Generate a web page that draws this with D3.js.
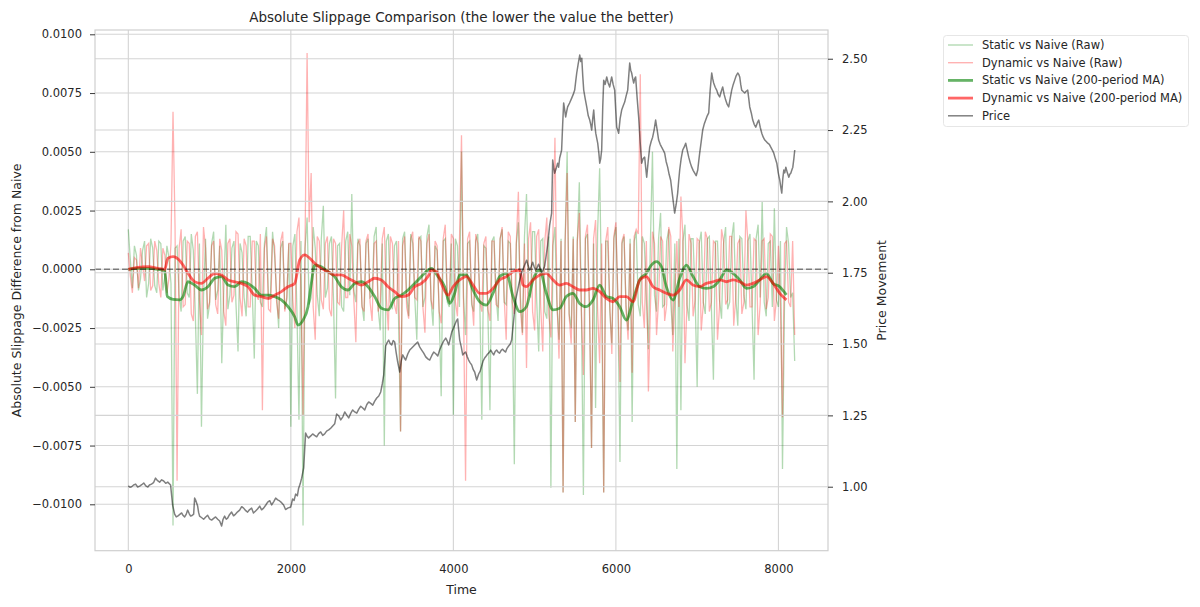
<!DOCTYPE html>
<html>
<head>
<meta charset="utf-8">
<script src="https://cdn.jsdelivr.net/npm/d3@7"></script>
<style>
  html, body { margin: 0; padding: 0; background: #ffffff; }
  svg { display: block; font-family: "DejaVu Sans", sans-serif; }
</style>
</head>
<body>
<svg id="chart" width="1200" height="607"></svg>
<script>
// ---------------- DATA ----------------
const chartTitle = "Absolute Slippage Comparison (the lower the value the better)";
const xLabel = "Time";
const yLeftLabel = "Absolute Slippage Difference from Naive";
const yRightLabel = "Price Movement";
const seriesNames = ["Static vs Naive (Raw)", "Dynamic vs Naive (Raw)", "Static vs Naive (200-period MA)", "Dynamic vs Naive (200-period MA)", "Price"];

const xTicks = [0, 2000, 4000, 6000, 8000];
const leftTicks = [-0.0100, -0.0075, -0.0050, -0.0025, 0.0000, 0.0025, 0.0050, 0.0075, 0.0100];
const rightTicks = [1.00, 1.25, 1.50, 1.75, 2.00, 2.25, 2.50];

// raw series read at every 50 time steps (0 .. 8200) ...
const rawTimes = d3.range(0, 8201, 50);
// ... and at the in-between steps (25 .. 8175)
const rawMidTimes = d3.range(25, 8200, 50);

const staticRaw = [
  0.0017, -0.0008, 0.0006, -0.0004, 0.0012, -0.0006, 0.0009, -0.0010, 0.0011, -0.0003,
  0.0005, -0.0109, 0.0010, -0.0018, 0.0014, -0.0012, 0.0008, -0.0053, -0.0067, 0.0013,
  -0.0015, 0.0016, -0.0009, -0.0040, 0.0019, -0.0011, 0.0012, -0.0035, 0.0007, -0.0020,
  0.0014, -0.0038, 0.0010, -0.0016, 0.0018, -0.0010, 0.0006, -0.0025, 0.0012, -0.0013,
  -0.0067, 0.0015, -0.0064, -0.0109, 0.0022, -0.0012, 0.0009, -0.0020, 0.0027, -0.0008,
  0.0014, -0.0055, 0.0011, -0.0018, 0.0016, 0.0032, -0.0014, 0.0010, -0.0022, 0.0013,
  -0.0011, 0.0018, -0.0026, -0.0075, 0.0015, -0.0017, 0.0012, -0.0069, 0.0016, -0.0020,
  0.0011, -0.0030, 0.0014, -0.0012, 0.0019, -0.0024, 0.0008, -0.0054, 0.0013, -0.0016,
  -0.0062, 0.0010, 0.0050, -0.0028, 0.0012, -0.0018, 0.0015, -0.0064, 0.0009, -0.0060,
  0.0014, -0.0022, 0.0017, -0.0015, 0.0011, -0.0083, 0.0020, -0.0027, 0.0032, -0.0012,
  0.0016, -0.0035, 0.0013, -0.0021, -0.0093, 0.0018, -0.0030, -0.0095, 0.0050, -0.0025,
  -0.0065, 0.0037, -0.0096, 0.0015, -0.0076, -0.0059, 0.0043, -0.0095, 0.0012, -0.0032,
  0.0018, -0.0082, 0.0014, -0.0026, -0.0065, 0.0016, -0.0020, 0.0011, -0.0034, 0.0050,
  -0.0018, 0.0024, -0.0015, 0.0017, -0.0028, -0.0085, -0.0060, 0.0019, -0.0022, 0.0013,
  -0.0050, 0.0016, -0.0019, 0.0014, -0.0047, 0.0012, -0.0021, 0.0018, -0.0014, 0.0020,
  -0.0024, 0.0013, -0.0017, 0.0015, -0.0047, 0.0019, 0.0029, -0.0020, 0.0012, 0.0026,
  -0.0016, -0.0085, 0.0018, -0.0012, -0.0039
];
const staticRawMid = [
  0.0004, 0.0010, -0.0009, 0.0008, -0.0012, 0.0013, -0.0007, 0.0012, -0.0009, 0.0010,
  -0.0006, 0.0009, -0.0011, 0.0012, -0.0010, 0.0015, -0.0020, 0.0011, -0.0012, -0.0021,
  0.0011, -0.0013, 0.0010, -0.0008, -0.0017, 0.0009, -0.0015, 0.0011, -0.0012, 0.0014,
  -0.0009, 0.0012, -0.0014, 0.0011, -0.0013, 0.0016, -0.0011, 0.0009, -0.0017, 0.0011,
  0.0010, -0.0018, 0.0012, 0.0009, -0.0015, 0.0018, -0.0011, 0.0013, -0.0012, 0.0011,
  -0.0013, 0.0010, -0.0016, 0.0012, -0.0011, -0.0009, 0.0013, -0.0015, 0.0011, -0.0012,
  0.0014, -0.0017, 0.0011, 0.0012, -0.0014, 0.0010, -0.0020, 0.0013, -0.0011, 0.0015,
  -0.0012, 0.0013, -0.0016, 0.0014, -0.0013, 0.0010, -0.0018, 0.0012, -0.0014, 0.0011,
  0.0013, -0.0016, -0.0012, 0.0011, -0.0015, 0.0012, -0.0013, 0.0010, -0.0019, 0.0012,
  -0.0011, 0.0013, -0.0014, 0.0012, -0.0017, 0.0011, -0.0012, 0.0014, -0.0010, 0.0016,
  -0.0013, 0.0012, -0.0018, 0.0014, 0.0010, -0.0016, 0.0013, 0.0012, -0.0019, 0.0014,
  0.0012, -0.0015, 0.0013, -0.0017, 0.0011, 0.0016, -0.0014, 0.0012, -0.0018, 0.0013,
  -0.0014, 0.0011, -0.0016, 0.0013, 0.0012, -0.0015, 0.0014, -0.0013, 0.0012, -0.0011,
  0.0013, -0.0016, 0.0012, -0.0014, 0.0011, 0.0013, 0.0012, -0.0015, 0.0013, -0.0012,
  0.0011, -0.0014, 0.0013, -0.0016, 0.0012, -0.0013, 0.0011, -0.0017, 0.0013, -0.0012,
  0.0014, -0.0011, 0.0012, -0.0015, 0.0013, -0.0012, -0.0014, 0.0011, -0.0016, -0.0013,
  0.0012, -0.0014, 0.0011, -0.0010
];
const dynamicRaw = [
  0.0007, -0.0010, 0.0004, 0.0009, -0.0005, 0.0011, -0.0007, 0.0008, -0.0012, 0.0006,
  -0.0004, 0.0067, -0.0090, 0.0017, -0.0015, 0.0011, -0.0022, 0.0016, -0.0028, 0.0009,
  -0.0014, 0.0012, -0.0019, 0.0008, -0.0024, 0.0013, -0.0011, 0.0015, -0.0020, 0.0010,
  -0.0016, 0.0012, -0.0013, -0.0060, 0.0014, -0.0018, 0.0010, -0.0021, 0.0016, -0.0012,
  0.0011, -0.0025, 0.0022, -0.0062, 0.0092, 0.0041, -0.0030, 0.0012, -0.0017, 0.0014,
  -0.0020, 0.0011, -0.0015, 0.0025, -0.0012, 0.0010, -0.0031, 0.0013, -0.0018, 0.0015,
  -0.0022, 0.0012, -0.0014, 0.0018, -0.0026, 0.0011, -0.0019, -0.0069, 0.0014, -0.0021,
  0.0016, -0.0013, 0.0012, -0.0027, 0.0015, -0.0017, 0.0010, -0.0023, 0.0019, -0.0014,
  0.0013, -0.0020, 0.0057, -0.0090, 0.0016, -0.0024, 0.0011, -0.0018, 0.0014, -0.0022,
  0.0012, -0.0016, 0.0018, -0.0030, 0.0014, -0.0019, 0.0033, -0.0028, -0.0042, 0.0020,
  -0.0026, 0.0017, -0.0035, 0.0022, -0.0029, 0.0056, -0.0038, -0.0095, 0.0041, -0.0032,
  -0.0065, 0.0024, -0.0045, 0.0019, -0.0076, 0.0021, -0.0040, -0.0095, 0.0018, -0.0036,
  0.0020, -0.0048, 0.0015, -0.0030, -0.0044, 0.0017, 0.0083, -0.0025, -0.0052, 0.0016,
  -0.0028, 0.0014, -0.0022, 0.0018, -0.0035, 0.0012, 0.0031, -0.0040, 0.0015, -0.0020,
  0.0013, -0.0026, 0.0016, -0.0018, 0.0012, -0.0030, 0.0017, -0.0015, 0.0014, -0.0024,
  0.0011, -0.0019, 0.0025, -0.0016, 0.0013, -0.0028, 0.0012, -0.0017, 0.0015, -0.0022,
  0.0010, -0.0063, 0.0012, -0.0016, -0.0028
];
const dynamicRawMid = [
  -0.0003, 0.0005, -0.0008, 0.0002, 0.0010, -0.0009, 0.0012, -0.0006, 0.0009, -0.0010,
  0.0011, 0.0018, 0.0009, -0.0016, 0.0012, -0.0019, 0.0014, -0.0013, 0.0018, -0.0017,
  0.0010, -0.0015, 0.0013, -0.0018, 0.0011, -0.0014, 0.0016, -0.0012, 0.0013, -0.0016,
  0.0012, -0.0011, 0.0015, 0.0009, -0.0017, 0.0013, -0.0014, 0.0012, -0.0018, 0.0011,
  -0.0013, 0.0016, -0.0010, 0.0012, 0.0020, -0.0016, 0.0014, -0.0013, 0.0011, -0.0017,
  0.0013, -0.0014, 0.0010, -0.0012, 0.0015, -0.0013, 0.0011, -0.0016, 0.0012, -0.0014,
  0.0011, -0.0018, 0.0013, -0.0012, 0.0014, -0.0015, 0.0012, 0.0010, -0.0016, 0.0013,
  -0.0012, 0.0014, -0.0016, 0.0011, -0.0013, 0.0012, -0.0018, 0.0013, -0.0011, 0.0015,
  -0.0014, 0.0012, -0.0016, 0.0013, -0.0012, 0.0015, -0.0013, 0.0011, -0.0017, 0.0012,
  -0.0015, 0.0013, -0.0012, 0.0016, -0.0014, 0.0012, -0.0017, 0.0011, 0.0013, -0.0018,
  0.0014, -0.0016, 0.0012, -0.0019, 0.0015, -0.0013, 0.0012, 0.0011, -0.0020, 0.0013,
  0.0012, -0.0018, 0.0014, -0.0016, 0.0013, -0.0017, 0.0011, 0.0012, -0.0015, 0.0014,
  -0.0013, 0.0012, -0.0017, 0.0011, 0.0014, 0.0015, -0.0014, 0.0012, -0.0016, 0.0011,
  -0.0013, 0.0012, -0.0015, 0.0014, -0.0012, -0.0016, 0.0013, -0.0014, 0.0011, -0.0013,
  0.0012, -0.0015, 0.0013, -0.0014, 0.0011, -0.0016, 0.0012, -0.0013, 0.0014, -0.0012,
  0.0013, -0.0014, 0.0011, -0.0016, 0.0012, -0.0015, 0.0013, -0.0012, 0.0014, -0.0013,
  -0.0015, 0.0011, -0.0014, 0.0012
];

// 200-period moving averages: [time, value]
const staticMA = [
  [0, 0], [119, 0.00004], [242, 0.00004], [365, 0], [447, -0.00006], [480, -0.00116],
  [550, -0.00128], [632, -0.0013], [673, -0.00116], [734, -0.00053], [816, -0.00067],
  [898, -0.00088], [980, -0.00074], [1063, -0.00038], [1145, -0.00031], [1227, -0.00067],
  [1309, -0.00074], [1391, -0.00053], [1473, -0.0006], [1555, -0.00081], [1637, -0.0011],
  [1719, -0.0011], [1801, -0.00116], [1883, -0.0013], [1965, -0.00159], [2047, -0.00202],
  [2088, -0.00237], [2150, -0.00216], [2211, -0.00159], [2252, -0.0006], [2293, 0.00018],
  [2375, 0.00011], [2457, -0.0001], [2539, -0.00031], [2621, -0.00074], [2703, -0.00088],
  [2786, -0.0006], [2868, -0.00053], [2950, -0.00074], [3032, -0.00116], [3114, -0.00166],
  [3196, -0.00173], [3278, -0.00124], [3360, -0.0011], [3442, -0.00088], [3524, -0.0006],
  [3606, -0.00031], [3688, -0.00003], [3729, 0.00004], [3811, -0.00031], [3893, -0.00074],
  [3955, -0.00145], [4016, -0.00102], [4078, -0.00024], [4160, -0.00024], [4242, -0.00088],
  [4324, -0.00138], [4406, -0.00152], [4488, -0.00102], [4570, -0.00031], [4652, -0.00017],
  [4734, -0.00116], [4816, -0.0018], [4898, -0.00159], [4980, -0.00045], [5062, -0.00003],
  [5144, -0.00102], [5226, -0.00173], [5308, -0.00166], [5390, -0.00116], [5472, -0.00102],
  [5554, -0.00145], [5636, -0.00159], [5718, -0.00131], [5801, -0.00067], [5883, -0.00116],
  [5965, -0.00124], [6047, -0.00159], [6129, -0.00216], [6211, -0.00131], [6293, -0.00045],
  [6375, -0.00017], [6436, 0.00018], [6498, 0.00033], [6560, 0.00011], [6621, -0.00074],
  [6703, -0.00131], [6785, -0.00038], [6867, 0.00018], [6949, -0.00031], [7031, -0.00074],
  [7113, -0.00081], [7195, -0.00074], [7278, -0.00045], [7360, -0.00003], [7442, -0.00017],
  [7524, -0.00045], [7606, -0.00081], [7688, -0.00074], [7770, -0.00045], [7852, -0.00017],
  [7934, -0.0006], [8016, -0.00074], [8098, -0.00109]
];
const dynamicMA = [
  [0, 0], [119, 0.000085], [242, 0.000114], [365, 0.000043], [447, 0], [488, 0.00047],
  [550, 0.00054], [632, 0.00037], [673, 0.00018], [734, -0.00017], [816, -0.00053],
  [898, -0.0006], [980, -0.00038], [1063, -0.00017], [1145, -0.00024], [1227, -0.00045],
  [1309, -0.00053], [1391, -0.0006], [1473, -0.00074], [1555, -0.0011], [1637, -0.00116],
  [1719, -0.00124], [1801, -0.0011], [1883, -0.00095], [1965, -0.00074], [2047, -0.0006],
  [2109, 0.0004], [2170, 0.00061], [2232, 0.00047], [2293, 0.00026], [2375, 0.00004],
  [2457, -0.0001], [2539, -0.00024], [2621, -0.00024], [2703, -0.00038], [2786, -0.00053],
  [2868, -0.00067], [2950, -0.00053], [3032, -0.00038], [3114, -0.00045], [3196, -0.00074],
  [3278, -0.00095], [3360, -0.00116], [3442, -0.0011], [3524, -0.00074], [3606, -0.0006],
  [3688, -0.00031], [3729, -0.00003], [3791, -0.0001], [3852, -0.0006], [3934, -0.0011],
  [3996, -0.00074], [4078, -0.00045], [4160, -0.00031], [4242, -0.00067], [4324, -0.00102],
  [4406, -0.00102], [4488, -0.00081], [4570, -0.00045], [4652, -0.00031], [4734, -0.0001],
  [4816, -0.00003], [4857, -0.00067], [4898, -0.00074], [4980, -0.00045], [5062, -0.00024],
  [5144, -0.00017], [5226, -0.00045], [5308, -0.00067], [5390, -0.0006], [5472, -0.00074],
  [5554, -0.00088], [5636, -0.00088], [5718, -0.00081], [5801, -0.00095], [5883, -0.00124],
  [5965, -0.00138], [6047, -0.00116], [6129, -0.00116], [6211, -0.00138], [6293, -0.00045],
  [6375, -0.00031], [6457, -0.00074], [6539, -0.00088], [6621, -0.00102], [6703, -0.0011],
  [6785, -0.00088], [6867, -0.00045], [6949, -0.00067], [7031, -0.00074], [7113, -0.0006],
  [7195, -0.00053], [7278, -0.00045], [7360, -0.00053], [7442, -0.00045], [7524, -0.00053],
  [7606, -0.00067], [7688, -0.0006], [7770, -0.00045], [7852, -0.00031], [7934, -0.0006],
  [8016, -0.00102], [8098, -0.0013]
];

// price: [time, price]
const price = [
  [0, 1.003], [20, 0.998], [40, 1.0], [65, 1.006], [90, 1.009], [115, 0.999], [140, 1.002],
  [165, 1.007], [190, 1.013], [215, 1.003], [240, 0.999], [260, 1.006], [285, 1.009], [310, 1.014],
  [335, 1.030], [360, 1.021], [385, 1.016], [410, 1.024], [435, 1.02], [460, 1.012], [485, 1.016],
  [520, 1.006], [545, 0.936], [570, 0.904], [590, 0.894], [607, 0.897], [630, 0.902], [656, 0.908],
  [675, 0.899], [693, 0.894], [712, 0.903], [730, 0.918], [750, 0.905], [767, 0.897], [785, 0.899],
  [804, 0.904], [816, 0.96], [828, 0.953], [853, 0.932], [865, 0.91], [877, 0.897], [900, 0.892],
  [927, 0.886], [950, 0.893], [976, 0.90], [1000, 0.887], [1025, 0.883], [1050, 0.889],
  [1074, 0.894], [1100, 0.886], [1124, 0.88], [1148, 0.862], [1165, 0.885], [1185, 0.897],
  [1205, 0.886], [1222, 0.89], [1245, 0.902], [1271, 0.911], [1295, 0.898], [1320, 0.904],
  [1345, 0.912], [1370, 0.918], [1395, 0.93], [1419, 0.925], [1445, 0.916], [1468, 0.911],
  [1490, 0.919], [1517, 0.925], [1540, 0.908], [1566, 0.915], [1590, 0.922], [1617, 0.932],
  [1640, 0.919], [1665, 0.925], [1690, 0.935], [1715, 0.946], [1740, 0.951], [1764, 0.936],
  [1790, 0.948], [1813, 0.96], [1838, 0.954], [1862, 0.95], [1886, 0.944], [1911, 0.936],
  [1935, 0.92], [1961, 0.925], [1998, 0.929], [2022, 0.957], [2040, 0.952], [2059, 0.974],
  [2080, 0.968], [2096, 0.995], [2115, 1.01], [2133, 1.03], [2158, 1.066], [2170, 1.129],
  [2182, 1.188], [2200, 1.177], [2219, 1.171], [2245, 1.178], [2268, 1.185], [2292, 1.18],
  [2318, 1.175], [2342, 1.186], [2367, 1.192], [2392, 1.18], [2416, 1.185], [2440, 1.195],
  [2466, 1.199], [2490, 1.205], [2515, 1.213], [2540, 1.221], [2564, 1.255], [2590, 1.248],
  [2614, 1.234], [2640, 1.245], [2663, 1.262], [2690, 1.25], [2712, 1.241], [2738, 1.258],
  [2761, 1.269], [2786, 1.262], [2811, 1.258], [2836, 1.272], [2860, 1.282], [2885, 1.276],
  [2909, 1.269], [2935, 1.288], [2958, 1.297], [2983, 1.292], [3008, 1.286], [3032, 1.3],
  [3057, 1.311], [3082, 1.318], [3106, 1.332], [3125, 1.36], [3143, 1.392], [3155, 1.44],
  [3167, 1.493], [3185, 1.505], [3204, 1.514], [3222, 1.502], [3241, 1.497], [3260, 1.512],
  [3278, 1.507], [3296, 1.47], [3315, 1.437], [3340, 1.402], [3358, 1.44], [3377, 1.462],
  [3395, 1.452], [3413, 1.444], [3440, 1.466], [3463, 1.479], [3488, 1.486], [3512, 1.493],
  [3536, 1.5], [3561, 1.507], [3585, 1.49], [3610, 1.479], [3635, 1.468], [3660, 1.455],
  [3685, 1.448], [3709, 1.444], [3735, 1.46], [3758, 1.472], [3783, 1.466], [3808, 1.458],
  [3832, 1.48], [3857, 1.497], [3880, 1.51], [3906, 1.521], [3925, 1.51], [3943, 1.497],
  [3962, 1.52], [3980, 1.542], [4000, 1.555], [4017, 1.567], [4035, 1.58], [4053, 1.588],
  [4065, 1.55], [4078, 1.514], [4097, 1.49], [4115, 1.462], [4133, 1.468], [4151, 1.472],
  [4170, 1.456], [4188, 1.444], [4205, 1.435], [4225, 1.427], [4245, 1.41], [4262, 1.402],
  [4287, 1.374], [4311, 1.395], [4330, 1.405], [4348, 1.423], [4365, 1.44], [4385, 1.451],
  [4404, 1.458], [4422, 1.465], [4440, 1.47], [4459, 1.479], [4478, 1.47], [4496, 1.462],
  [4514, 1.474], [4532, 1.479], [4550, 1.472], [4569, 1.468], [4588, 1.478], [4606, 1.482],
  [4625, 1.476], [4643, 1.472], [4660, 1.485], [4680, 1.493], [4700, 1.5], [4717, 1.514],
  [4742, 1.584], [4766, 1.654], [4785, 1.68], [4803, 1.706], [4822, 1.73], [4840, 1.752],
  [4860, 1.765], [4877, 1.777], [4902, 1.794], [4920, 1.775], [4939, 1.759], [4958, 1.772],
  [4976, 1.787], [4995, 1.77], [5012, 1.759], [5030, 1.768], [5049, 1.78], [5068, 1.765],
  [5086, 1.752], [5105, 1.76], [5123, 1.773], [5142, 1.81], [5160, 1.847], [5185, 1.917],
  [5209, 1.959], [5222, 2.145], [5234, 2.12], [5246, 2.099], [5265, 2.115], [5283, 2.134],
  [5295, 2.12], [5308, 2.152], [5320, 2.165], [5332, 2.18], [5345, 2.27], [5357, 2.345],
  [5370, 2.32], [5382, 2.296], [5394, 2.315], [5406, 2.331], [5430, 2.345], [5456, 2.362],
  [5475, 2.375], [5493, 2.39], [5505, 2.42], [5518, 2.45], [5535, 2.48], [5555, 2.513],
  [5568, 2.49], [5580, 2.502], [5592, 2.44], [5604, 2.39], [5622, 2.36], [5641, 2.331],
  [5660, 2.3], [5678, 2.285], [5690, 2.27], [5702, 2.25], [5715, 2.29], [5727, 2.32],
  [5740, 2.27], [5752, 2.239], [5765, 2.22], [5776, 2.204], [5790, 2.17], [5801, 2.134],
  [5813, 2.15], [5825, 2.18], [5838, 2.33], [5850, 2.425], [5868, 2.41], [5887, 2.436],
  [5905, 2.415], [5924, 2.401], [5936, 2.42], [5948, 2.436], [5966, 2.41], [5985, 2.39],
  [5998, 2.32], [6010, 2.26], [6022, 2.25], [6034, 2.239], [6052, 2.29], [6071, 2.32],
  [6090, 2.335], [6108, 2.348], [6126, 2.37], [6145, 2.39], [6158, 2.44], [6170, 2.485],
  [6182, 2.46], [6194, 2.45], [6207, 2.43], [6219, 2.415], [6231, 2.43], [6243, 2.436],
  [6262, 2.36], [6280, 2.296], [6298, 2.21], [6317, 2.134], [6335, 2.15], [6354, 2.155],
  [6366, 2.12], [6379, 2.085], [6397, 2.14], [6416, 2.19], [6434, 2.21], [6452, 2.225],
  [6470, 2.25], [6489, 2.285], [6508, 2.25], [6526, 2.215], [6545, 2.2], [6563, 2.19],
  [6582, 2.18], [6600, 2.169], [6618, 2.14], [6637, 2.12], [6655, 2.095], [6674, 2.074],
  [6699, 2.015], [6723, 1.959], [6742, 1.99], [6760, 2.029], [6772, 2.07], [6785, 2.11],
  [6803, 2.15], [6822, 2.18], [6840, 2.19], [6859, 2.204], [6877, 2.18], [6896, 2.155],
  [6915, 2.135], [6933, 2.12], [6952, 2.108], [6970, 2.099], [6988, 2.09], [7007, 2.11],
  [7019, 2.14], [7031, 2.169], [7050, 2.21], [7068, 2.25], [7086, 2.27], [7105, 2.285],
  [7124, 2.3], [7142, 2.31], [7160, 2.39], [7179, 2.45], [7191, 2.43], [7203, 2.415],
  [7222, 2.4], [7240, 2.39], [7258, 2.375], [7277, 2.366], [7296, 2.385], [7314, 2.401],
  [7332, 2.375], [7351, 2.355], [7370, 2.34], [7388, 2.331], [7406, 2.36], [7425, 2.39],
  [7444, 2.41], [7462, 2.425], [7480, 2.44], [7499, 2.45], [7512, 2.445], [7524, 2.436],
  [7536, 2.41], [7548, 2.39], [7566, 2.385], [7585, 2.38], [7603, 2.386], [7622, 2.39],
  [7635, 2.36], [7647, 2.331], [7666, 2.31], [7684, 2.285], [7702, 2.27], [7721, 2.26],
  [7740, 2.275], [7758, 2.285], [7776, 2.26], [7795, 2.239], [7813, 2.225], [7832, 2.215],
  [7850, 2.21], [7869, 2.204], [7888, 2.2], [7906, 2.19], [7925, 2.18], [7943, 2.169],
  [7962, 2.15], [7980, 2.134], [7998, 2.1], [8017, 2.074], [8029, 2.05], [8041, 2.029],
  [8054, 2.08], [8066, 2.11], [8078, 2.1], [8091, 2.12], [8110, 2.1], [8128, 2.085],
  [8140, 2.095], [8152, 2.099], [8165, 2.11], [8177, 2.12], [8190, 2.15], [8201, 2.18]
];

// ---------------- DRAWING ----------------
const svg = d3.select("#chart");
const plot = { left: 95, right: 828, top: 30, bottom: 550.7 };
const textColor = "#262626";
const gridColor = "#d4d4d4";

const x = d3.scaleLinear().domain([-410, 8610]).range([plot.left, plot.right]);
const yL = d3.scaleLinear().domain([-0.011974, 0.010183]).range([plot.bottom, plot.top]);
const yR = d3.scaleLinear().domain([0.7757, 2.6007]).range([plot.bottom, plot.top]);

// combine the two reading grids of each raw series into one time-ordered list
function mergeRaw(vals, midVals) {
  const pts = rawTimes.map((t, i) => [t, vals[i]])
    .concat(rawMidTimes.map((t, i) => [t, midVals[i]]));
  return pts.sort((a, b) => a[0] - b[0]);
}
const staticRawPts = mergeRaw(staticRaw, staticRawMid);
const dynamicRawPts = mergeRaw(dynamicRaw, dynamicRawMid);

svg.append("defs").append("clipPath").attr("id", "clip")
  .append("rect").attr("x", plot.left).attr("y", plot.top)
  .attr("width", plot.right - plot.left).attr("height", plot.bottom - plot.top);

// grid of first axes
const g1 = svg.append("g");
g1.selectAll(".vg").data(xTicks).join("line")
  .attr("x1", d => x(d)).attr("x2", d => x(d))
  .attr("y1", plot.top).attr("y2", plot.bottom)
  .attr("stroke", gridColor).attr("stroke-width", 1.1);
g1.selectAll(".hg").data(leftTicks).join("line")
  .attr("x1", plot.left).attr("x2", plot.right)
  .attr("y1", d => yL(d)).attr("y2", d => yL(d))
  .attr("stroke", gridColor).attr("stroke-width", 1.1);

const data = svg.append("g").attr("clip-path", "url(#clip)");
const lineL = d3.line().x(d => x(d[0])).y(d => yL(d[1]));
const maLineL = d3.line().x(d => x(d[0])).y(d => yL(d[1])).curve(d3.curveMonotoneX);

data.append("path").datum(staticRawPts).attr("d", lineL)
  .attr("fill", "none").attr("stroke", "green").attr("stroke-opacity", 0.3).attr("stroke-width", 1.3);
data.append("path").datum(dynamicRawPts).attr("d", lineL)
  .attr("fill", "none").attr("stroke", "red").attr("stroke-opacity", 0.3).attr("stroke-width", 1.3);
data.append("path").datum(staticMA).attr("d", maLineL)
  .attr("fill", "none").attr("stroke", "green").attr("stroke-opacity", 0.6).attr("stroke-width", 2.8)
  .attr("stroke-linejoin", "round");
data.append("path").datum(dynamicMA).attr("d", maLineL)
  .attr("fill", "none").attr("stroke", "red").attr("stroke-opacity", 0.6).attr("stroke-width", 2.8)
  .attr("stroke-linejoin", "round");

// zero reference line
svg.append("line")
  .attr("x1", plot.left).attr("x2", plot.right)
  .attr("y1", yL(0)).attr("y2", yL(0))
  .attr("stroke", "#000").attr("stroke-opacity", 0.45).attr("stroke-width", 1.4)
  .attr("stroke-dasharray", "6,3");

// grid of second axes (drawn on top, like a twin axes)
svg.append("g").selectAll("line").data(rightTicks).join("line")
  .attr("x1", plot.left).attr("x2", plot.right)
  .attr("y1", d => yR(d)).attr("y2", d => yR(d))
  .attr("stroke", gridColor).attr("stroke-width", 1.1);

const priceLine = d3.line().x(d => x(d[0])).y(d => yR(d[1]));
svg.append("g").attr("clip-path", "url(#clip)").append("path").datum(price).attr("d", priceLine)
  .attr("fill", "none").attr("stroke", "#000").attr("stroke-opacity", 0.5).attr("stroke-width", 1.5)
  .attr("stroke-linejoin", "round");

// frame
svg.append("rect").attr("x", plot.left).attr("y", plot.top)
  .attr("width", plot.right - plot.left).attr("height", plot.bottom - plot.top)
  .attr("fill", "none").attr("stroke", "#cfcfcf").attr("stroke-width", 1.2);

// axes
const minus = s => s.replace("-", "\u2212");
const axL = d3.axisLeft(yL).tickValues(leftTicks).tickSize(5).tickPadding(8)
  .tickFormat(d => minus(d3.format(".4f")(d)));
const axR = d3.axisRight(yR).tickValues(rightTicks).tickSize(5).tickPadding(9)
  .tickFormat(d3.format(".2f"));
const axB = d3.axisBottom(x).tickValues(xTicks).tickSize(0).tickPadding(14)
  .tickFormat(d3.format("d"));

function styleAxis(g) {
  g.select(".domain").remove();
  g.selectAll(".tick line").attr("stroke", "#3a3a3a").attr("stroke-width", 1);
  g.selectAll(".tick text").attr("fill", textColor).style("font-size", "11.5px")
    .style("font-family", "DejaVu Sans, sans-serif");
}
svg.append("g").attr("transform", `translate(${plot.left},0)`).call(axL).call(styleAxis);
svg.append("g").attr("transform", `translate(${plot.right},0)`).call(axR).call(styleAxis);
svg.append("g").attr("transform", `translate(0,${plot.bottom})`).call(axB).call(styleAxis);

// titles & labels
svg.append("text").attr("x", (plot.left + plot.right) / 2).attr("y", 22)
  .attr("text-anchor", "middle").attr("fill", textColor).style("font-size", "13.5px")
  .text(chartTitle);
svg.append("text").attr("x", (plot.left + plot.right) / 2).attr("y", 594)
  .attr("text-anchor", "middle").attr("fill", textColor).style("font-size", "12.5px")
  .text(xLabel);
svg.append("text").attr("transform", `translate(21,${(plot.top + plot.bottom) / 2}) rotate(-90)`)
  .attr("text-anchor", "middle").attr("fill", textColor).style("font-size", "12.5px")
  .text(yLeftLabel);
svg.append("text").attr("transform", `translate(886,${(plot.top + plot.bottom) / 2}) rotate(-90)`)
  .attr("text-anchor", "middle").attr("fill", textColor).style("font-size", "12.5px")
  .text(yRightLabel);

// legend
const legendStyles = [
  { color: "green", opacity: 0.3, width: 1.4 },
  { color: "red", opacity: 0.3, width: 1.4 },
  { color: "green", opacity: 0.6, width: 2.8 },
  { color: "red", opacity: 0.6, width: 2.8 },
  { color: "#000", opacity: 0.5, width: 1.5 }
];
const lg = svg.append("g");
lg.append("rect").attr("x", 943.5).attr("y", 35.5).attr("width", 245).attr("height", 91)
  .attr("rx", 3).attr("fill", "#fff").attr("fill-opacity", 0.8)
  .attr("stroke", "#e6e6e6").attr("stroke-width", 1);
const rows = lg.selectAll(".row").data(seriesNames).join("g")
  .attr("transform", (d, i) => `translate(0,${45 + i * 17.7})`);
rows.append("line").attr("x1", 948).attr("x2", 973).attr("y1", 0).attr("y2", 0)
  .attr("stroke", (d, i) => legendStyles[i].color)
  .attr("stroke-opacity", (d, i) => legendStyles[i].opacity)
  .attr("stroke-width", (d, i) => legendStyles[i].width);
rows.append("text").attr("x", 982).attr("y", 0).attr("dy", "0.35em")
  .attr("fill", textColor).style("font-size", "11.5px").text(d => d);
</script>
</body>
</html>
